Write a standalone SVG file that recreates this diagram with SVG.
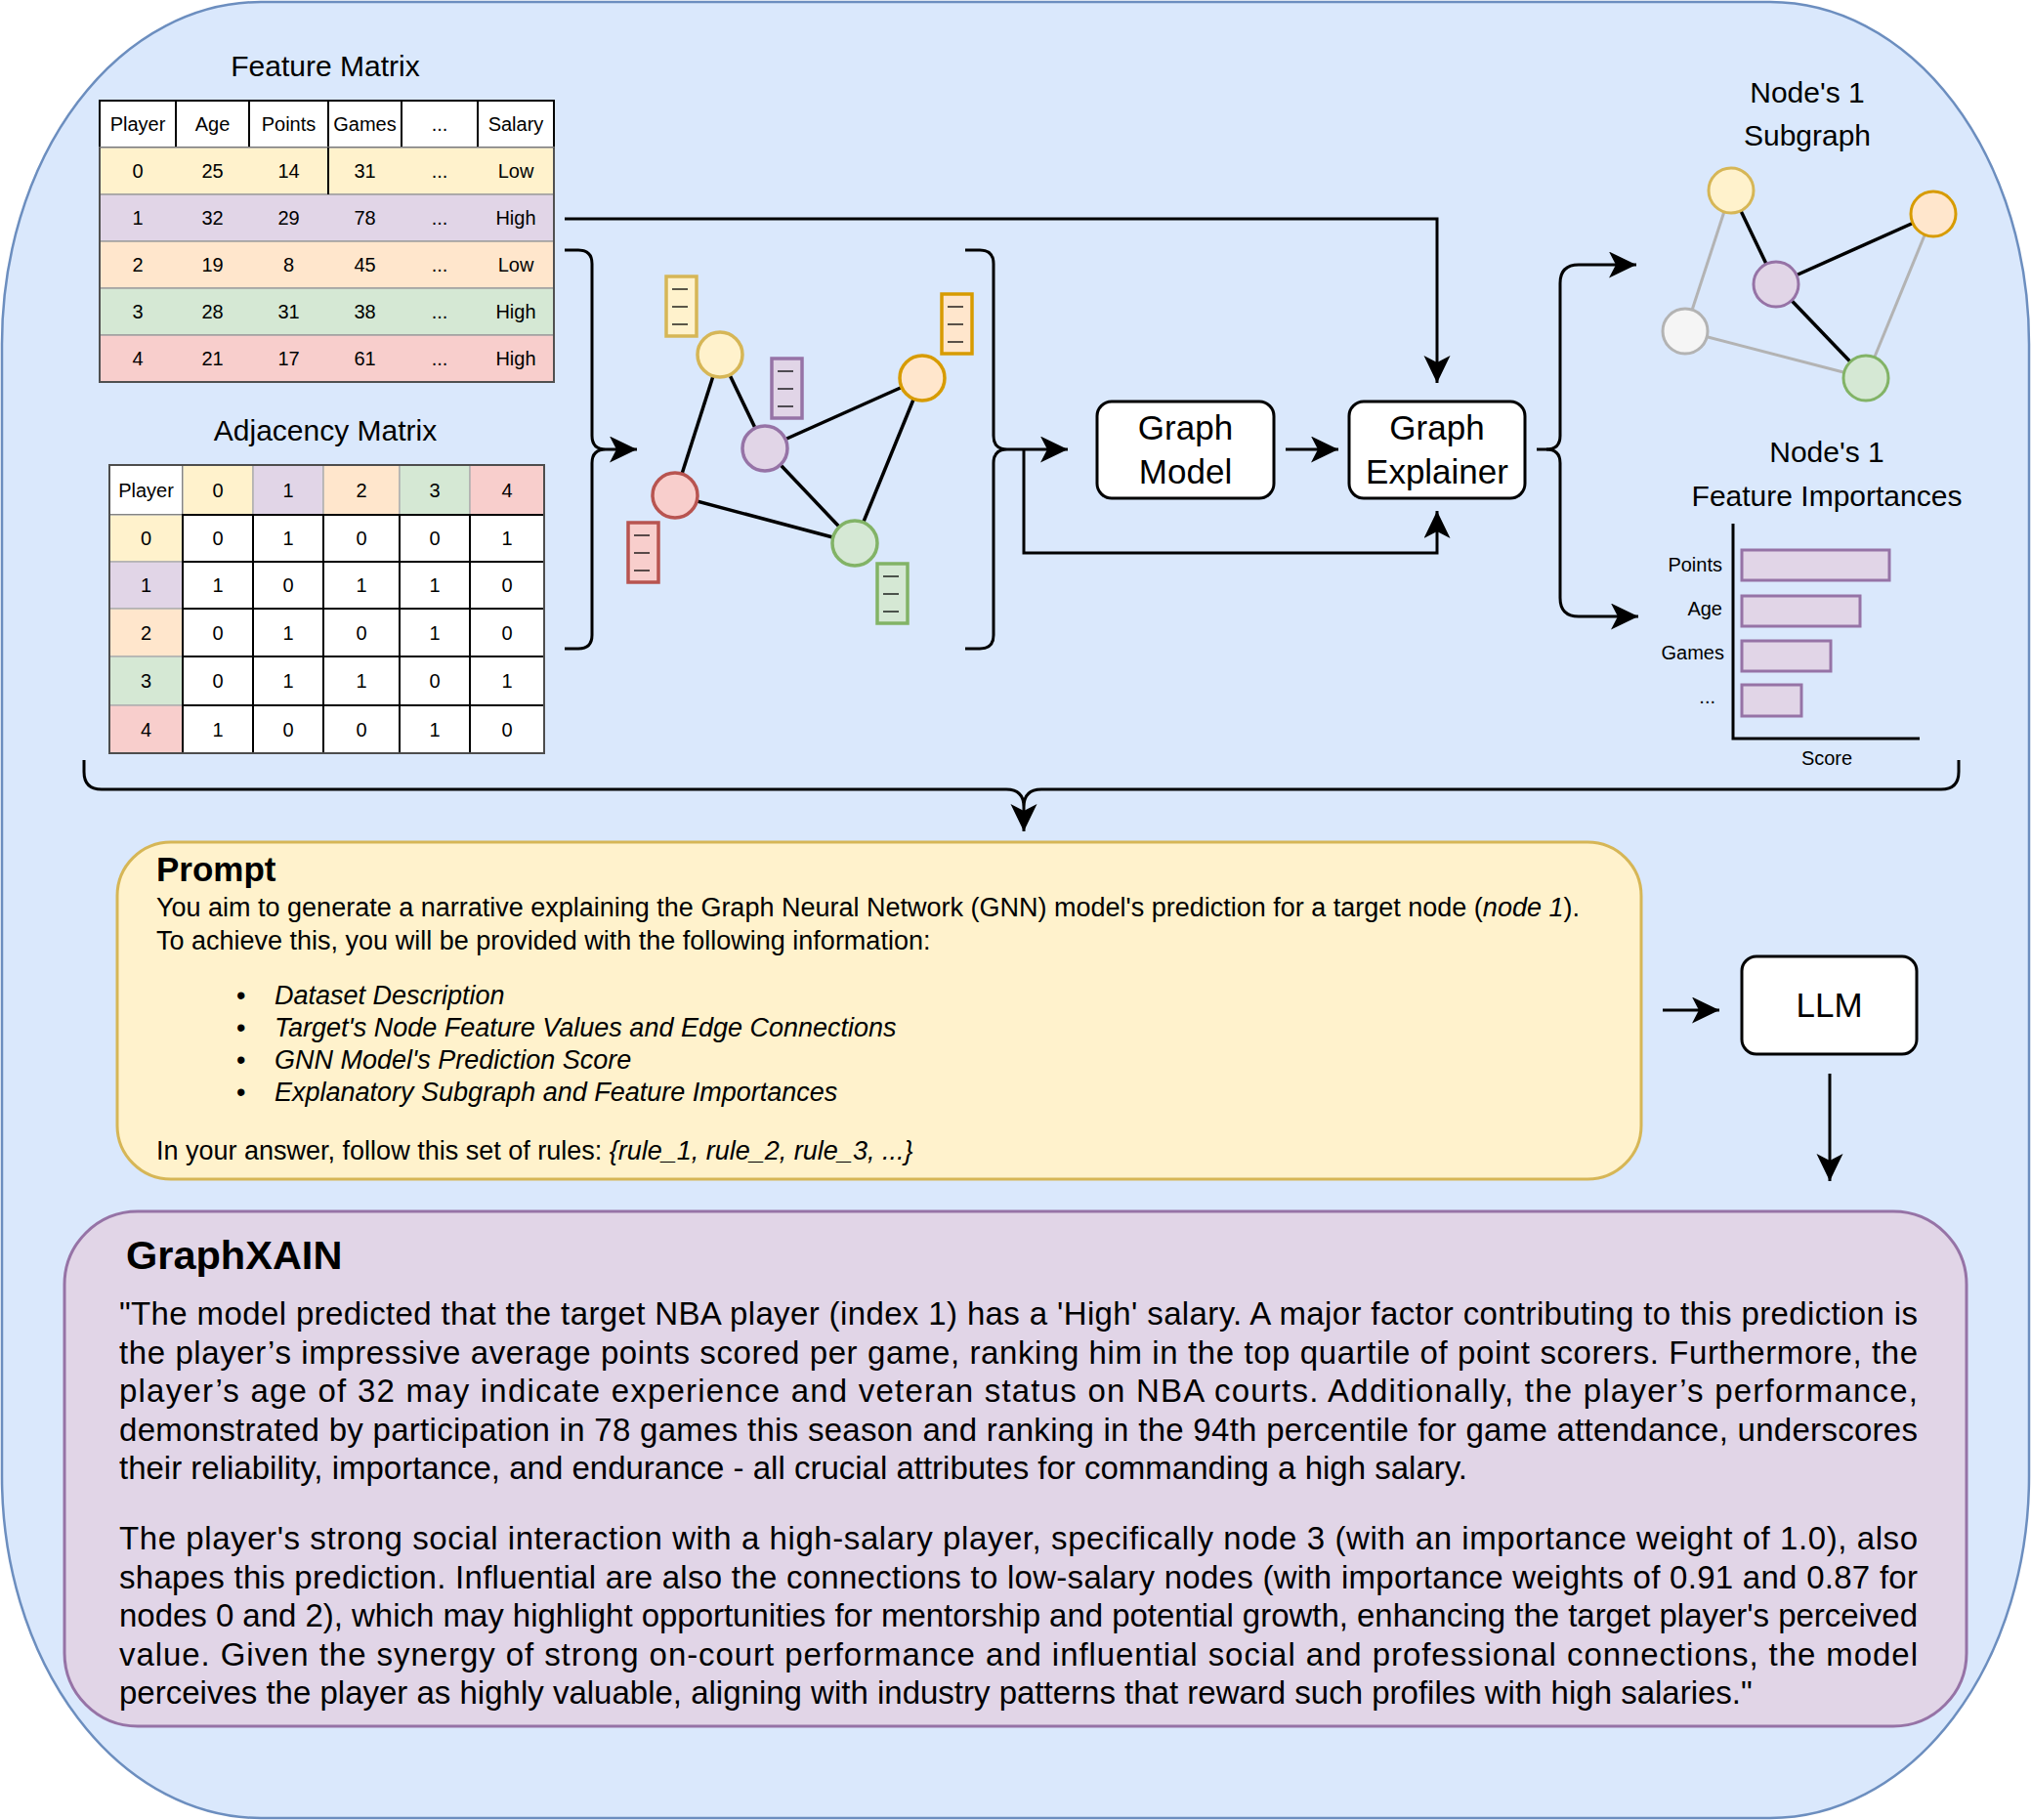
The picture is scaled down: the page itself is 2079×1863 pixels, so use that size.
<svg xmlns="http://www.w3.org/2000/svg" width="2079" height="1863" viewBox="0 0 2079 1863">
<style>
text{font-family:"Liberation Sans",Arial,sans-serif;fill:#000}
.t20{font-size:20px;text-anchor:middle}
.t30{font-size:30px;text-anchor:middle}
.lbl{font-size:20px;text-anchor:end}
.box{fill:#fff;stroke:#000;stroke-width:3}
.hdr{fill:#fff;stroke:#000;stroke-width:2}
.row{stroke:#a0a0a0;stroke-width:1.5}
.cell{fill:#fff;stroke:#000;stroke-width:2}
.ccell{stroke:#b0b0b0;stroke-width:1.5}
.edge{stroke:#000;stroke-width:3.5}
.gedge{stroke:#b3b3b3;stroke-width:3}
.conn{fill:none;stroke:#000;stroke-width:3}
.vec line{stroke:#000;stroke-width:1.3}
.c0{fill:#fff2cc;stroke:#d6b656}
.c1{fill:#e1d5e7;stroke:#9673a6}
.c2{fill:#ffe6cc;stroke:#d79b00}
.c3{fill:#d5e8d4;stroke:#82b366}
.c4{fill:#f8cecc;stroke:#b85450}
.cg{fill:#f5f5f5;stroke:#b3b3b3}
.body{font-size:33px}
.pb{font-size:27px}
</style>
<defs>
<marker id="arr" markerUnits="userSpaceOnUse" markerWidth="30" markerHeight="30" refX="28" refY="13.5" orient="auto">
<path d="M0,0 L28,13.5 L0,27 L7,13.5 Z" fill="#000"/>
</marker>
</defs>

<g id="background">
<rect x="2" y="2" width="2075" height="1859" rx="265" ry="350" fill="#dae8fc" stroke="#6c8ebf" stroke-width="2.5"/>
</g>

<g id="feature-matrix">
<text class="t30" x="333" y="78">Feature Matrix</text>
<rect class="hdr" x="102" y="103" width="78" height="48"/>
<rect class="hdr" x="180" y="103" width="75" height="48"/>
<rect class="hdr" x="255" y="103" width="81" height="48"/>
<rect class="hdr" x="336" y="103" width="75" height="48"/>
<rect class="hdr" x="411" y="103" width="78" height="48"/>
<rect class="hdr" x="489" y="103" width="78" height="48"/>
<rect class="row" x="102" y="151" width="465" height="48" fill="#fff2cc"/>
<rect class="row" x="102" y="199" width="465" height="48" fill="#e1d5e7"/>
<rect class="row" x="102" y="247" width="465" height="48" fill="#ffe6cc"/>
<rect class="row" x="102" y="295" width="465" height="48" fill="#d5e8d4"/>
<rect class="row" x="102" y="343" width="465" height="48" fill="#f8cecc"/>
<path d="M102,151 V391 H567 V151" fill="none" stroke="#505050" stroke-width="2"/>
<line x1="336" y1="151" x2="336" y2="199" stroke="#000" stroke-width="2"/>
<g class="t20">
<text x="141" y="134">Player</text><text x="217.5" y="134">Age</text><text x="295.5" y="134">Points</text><text x="373.5" y="134">Games</text><text x="450" y="134">...</text><text x="528" y="134">Salary</text>
<text x="141" y="182">0</text><text x="217.5" y="182">25</text><text x="295.5" y="182">14</text><text x="373.5" y="182">31</text><text x="450" y="182">...</text><text x="528" y="182">Low</text>
<text x="141" y="230">1</text><text x="217.5" y="230">32</text><text x="295.5" y="230">29</text><text x="373.5" y="230">78</text><text x="450" y="230">...</text><text x="528" y="230">High</text>
<text x="141" y="278">2</text><text x="217.5" y="278">19</text><text x="295.5" y="278">8</text><text x="373.5" y="278">45</text><text x="450" y="278">...</text><text x="528" y="278">Low</text>
<text x="141" y="326">3</text><text x="217.5" y="326">28</text><text x="295.5" y="326">31</text><text x="373.5" y="326">38</text><text x="450" y="326">...</text><text x="528" y="326">High</text>
<text x="141" y="374">4</text><text x="217.5" y="374">21</text><text x="295.5" y="374">17</text><text x="373.5" y="374">61</text><text x="450" y="374">...</text><text x="528" y="374">High</text>
</g>
</g>

<g id="adjacency-matrix">
<text class="t30" x="333" y="451">Adjacency Matrix</text>
<rect class="hdr" x="112" y="476" width="75" height="51"/>
<rect class="ccell" x="187" y="476" width="72" height="51" fill="#fff2cc"/>
<rect class="ccell" x="259" y="476" width="72" height="51" fill="#e1d5e7"/>
<rect class="ccell" x="331" y="476" width="78" height="51" fill="#ffe6cc"/>
<rect class="ccell" x="409" y="476" width="72" height="51" fill="#d5e8d4"/>
<rect class="ccell" x="481" y="476" width="76" height="51" fill="#f8cecc"/>
<rect class="ccell" x="112" y="527" width="75" height="48" fill="#fff2cc"/>
<rect class="ccell" x="112" y="575" width="75" height="48" fill="#e1d5e7"/>
<rect class="ccell" x="112" y="623" width="75" height="49" fill="#ffe6cc"/>
<rect class="ccell" x="112" y="672" width="75" height="50" fill="#d5e8d4"/>
<rect class="ccell" x="112" y="722" width="75" height="49" fill="#f8cecc"/>
<g>
<rect class="cell" x="187" y="527" width="72" height="48"/><rect class="cell" x="259" y="527" width="72" height="48"/><rect class="cell" x="331" y="527" width="78" height="48"/><rect class="cell" x="409" y="527" width="72" height="48"/><rect class="cell" x="481" y="527" width="76" height="48"/>
<rect class="cell" x="187" y="575" width="72" height="48"/><rect class="cell" x="259" y="575" width="72" height="48"/><rect class="cell" x="331" y="575" width="78" height="48"/><rect class="cell" x="409" y="575" width="72" height="48"/><rect class="cell" x="481" y="575" width="76" height="48"/>
<rect class="cell" x="187" y="623" width="72" height="49"/><rect class="cell" x="259" y="623" width="72" height="49"/><rect class="cell" x="331" y="623" width="78" height="49"/><rect class="cell" x="409" y="623" width="72" height="49"/><rect class="cell" x="481" y="623" width="76" height="49"/>
<rect class="cell" x="187" y="672" width="72" height="50"/><rect class="cell" x="259" y="672" width="72" height="50"/><rect class="cell" x="331" y="672" width="78" height="50"/><rect class="cell" x="409" y="672" width="72" height="50"/><rect class="cell" x="481" y="672" width="76" height="50"/>
<rect class="cell" x="187" y="722" width="72" height="49"/><rect class="cell" x="259" y="722" width="72" height="49"/><rect class="cell" x="331" y="722" width="78" height="49"/><rect class="cell" x="409" y="722" width="72" height="49"/><rect class="cell" x="481" y="722" width="76" height="49"/>
</g>
<rect x="112" y="476" width="445" height="295" fill="none" stroke="#4d4d4d" stroke-width="2"/>
<g class="t20">
<text x="149.5" y="508.5">Player</text><text x="223" y="508.5">0</text><text x="295" y="508.5">1</text><text x="370" y="508.5">2</text><text x="445" y="508.5">3</text><text x="519" y="508.5">4</text>
<text x="149.5" y="558">0</text><text x="223" y="558">0</text><text x="295" y="558">1</text><text x="370" y="558">0</text><text x="445" y="558">0</text><text x="519" y="558">1</text>
<text x="149.5" y="606">1</text><text x="223" y="606">1</text><text x="295" y="606">0</text><text x="370" y="606">1</text><text x="445" y="606">1</text><text x="519" y="606">0</text>
<text x="149.5" y="654.5">2</text><text x="223" y="654.5">0</text><text x="295" y="654.5">1</text><text x="370" y="654.5">0</text><text x="445" y="654.5">1</text><text x="519" y="654.5">0</text>
<text x="149.5" y="704">3</text><text x="223" y="704">0</text><text x="295" y="704">1</text><text x="370" y="704">1</text><text x="445" y="704">0</text><text x="519" y="704">1</text>
<text x="149.5" y="753.5">4</text><text x="223" y="753.5">1</text><text x="295" y="753.5">0</text><text x="370" y="753.5">0</text><text x="445" y="753.5">1</text><text x="519" y="753.5">0</text>
</g>
</g>

<g id="input-graph">
<g id="input-graph-edges">
<line class="edge" x1="737" y1="363" x2="691" y2="507"/>
<line class="edge" x1="737" y1="363" x2="783" y2="459"/>
<line class="edge" x1="783" y1="459" x2="944" y2="387"/>
<line class="edge" x1="783" y1="459" x2="875" y2="556"/>
<line class="edge" x1="944" y1="387" x2="875" y2="556"/>
<line class="edge" x1="691" y1="507" x2="875" y2="556"/>
</g>
<g stroke-width="3.5">
<circle class="c0" cx="737" cy="363" r="23"/>
<circle class="c1" cx="783" cy="459" r="23"/>
<circle class="c2" cx="944" cy="387" r="23"/>
<circle class="c3" cx="875" cy="556" r="23"/>
<circle class="c4" cx="691" cy="507" r="23"/>
</g>
<g class="vec" id="vec0"><rect class="c0" x="682" y="283" width="31" height="61" stroke-width="3.5"/><line x1="688" y1="296" x2="704" y2="296"/><line x1="688" y1="314" x2="704" y2="314"/><line x1="688" y1="332" x2="704" y2="332"/></g>
<g class="vec" id="vec2"><rect class="c2" x="964" y="301" width="31" height="61" stroke-width="3.5"/><line x1="970" y1="314" x2="986" y2="314"/><line x1="970" y1="332" x2="986" y2="332"/><line x1="970" y1="350" x2="986" y2="350"/></g>
<g class="vec" id="vec1"><rect class="c1" x="790" y="367" width="31" height="61" stroke-width="3.5"/><line x1="796" y1="380" x2="812" y2="380"/><line x1="796" y1="398" x2="812" y2="398"/><line x1="796" y1="416" x2="812" y2="416"/></g>
<g class="vec" id="vec4"><rect class="c4" x="643" y="535" width="31" height="61" stroke-width="3.5"/><line x1="649" y1="548" x2="665" y2="548"/><line x1="649" y1="566" x2="665" y2="566"/><line x1="649" y1="584" x2="665" y2="584"/></g>
<g class="vec" id="vec3"><rect class="c3" x="898" y="577" width="31" height="61" stroke-width="3.5"/><line x1="904" y1="590" x2="920" y2="590"/><line x1="904" y1="608" x2="920" y2="608"/><line x1="904" y1="626" x2="920" y2="626"/></g>
</g>

<g id="graph-model">
<rect class="box" x="1123" y="411" width="181" height="99" rx="15"/>
<text font-size="35" text-anchor="middle" x="1213.5" y="450">Graph</text>
<text font-size="35" text-anchor="middle" x="1213.5" y="495">Model</text>
</g>

<g id="graph-explainer">
<rect class="box" x="1381" y="411" width="180" height="99" rx="15"/>
<text font-size="35" text-anchor="middle" x="1471" y="450">Graph</text>
<text font-size="35" text-anchor="middle" x="1471" y="495">Explainer</text>
</g>

<g id="subgraph">
<text class="t30" x="1850" y="105">Node's 1</text>
<text class="t30" x="1850" y="149">Subgraph</text>
<line class="gedge" x1="1772" y1="195" x2="1725" y2="339"/>
<line class="gedge" x1="1725" y1="339" x2="1910" y2="387"/>
<line class="gedge" x1="1979" y1="219" x2="1910" y2="387"/>
<line class="edge" x1="1772" y1="195" x2="1818" y2="291"/>
<line class="edge" x1="1818" y1="291" x2="1979" y2="219"/>
<line class="edge" x1="1818" y1="291" x2="1910" y2="387"/>
<g stroke-width="3">
<circle class="c0" cx="1772" cy="195" r="23"/>
<circle class="c2" cx="1979" cy="219" r="23"/>
<circle class="c1" cx="1818" cy="291" r="23"/>
<circle class="cg" cx="1725" cy="339" r="23"/>
<circle class="c3" cx="1910" cy="387" r="23"/>
</g>
</g>

<g id="feature-importances">
<text class="t30" x="1870" y="473">Node's 1</text>
<text class="t30" x="1870" y="518">Feature Importances</text>
<g stroke-width="3">
<rect class="c1" x="1783" y="563" width="151" height="31"/>
<rect class="c1" x="1783" y="610" width="121" height="31"/>
<rect class="c1" x="1783" y="656" width="91" height="31"/>
<rect class="c1" x="1783" y="701" width="61" height="32"/>
</g>
<path d="M1774,536 V756 H1965" fill="none" stroke="#000" stroke-width="3"/>
<text class="lbl" x="1763" y="585">Points</text>
<text class="lbl" x="1763" y="630">Age</text>
<text class="lbl" x="1765" y="675">Games</text>
<text class="lbl" x="1756" y="720">...</text>
<text class="t20" x="1870" y="783">Score</text>
</g>

<g id="prompt">
<rect x="120" y="862" width="1560" height="345" rx="55" fill="#fff2cc" stroke="#d6b656" stroke-width="3"/>
<text x="160" y="902" font-size="35" font-weight="bold">Prompt</text>
<text class="pb" x="160" y="938">You aim to generate a narrative explaining the Graph Neural Network (GNN) model's prediction for a target node (<tspan font-style="italic">node 1</tspan>).</text>
<text class="pb" x="160" y="972">To achieve this, you will be provided with the following information:</text>
<g class="pb">
<text x="242" y="1028">•</text><text x="281" y="1028" font-style="italic">Dataset Description</text>
<text x="242" y="1061">•</text><text x="281" y="1061" font-style="italic">Target's Node Feature Values and Edge Connections</text>
<text x="242" y="1094">•</text><text x="281" y="1094" font-style="italic">GNN Model's Prediction Score</text>
<text x="242" y="1127">•</text><text x="281" y="1127" font-style="italic">Explanatory Subgraph and Feature Importances</text>
</g>
<text class="pb" x="160" y="1187">In your answer, follow this set of rules: <tspan font-style="italic">{rule_1, rule_2, rule_3, ...}</tspan></text>
</g>

<g id="llm">
<rect class="box" x="1783" y="979" width="179" height="100" rx="15"/>
<text font-size="35" text-anchor="middle" x="1872.5" y="1041">LLM</text>
</g>

<g id="graphxain">
<rect x="66" y="1240" width="1947" height="527" rx="75" fill="#e1d5e7" stroke="#9673a6" stroke-width="3"/>
<text x="129" y="1299" font-size="41.5" font-weight="bold">GraphXAIN</text>
<g class="body">
<text x="122" y="1356" textLength="1841" lengthAdjust="spacing">"The model predicted that the target NBA player (index 1) has a 'High' salary. A major factor contributing to this prediction is</text>
<text x="122" y="1395.5" textLength="1841" lengthAdjust="spacing">the player’s impressive average points scored per game, ranking him in the top quartile of point scorers. Furthermore, the</text>
<text x="122" y="1435" textLength="1841" lengthAdjust="spacing">player’s age of 32 may indicate experience and veteran status on NBA courts. Additionally, the player’s performance,</text>
<text x="122" y="1474.5" textLength="1841" lengthAdjust="spacing">demonstrated by participation in 78 games this season and ranking in the 94th percentile for game attendance, underscores</text>
<text x="122" y="1514">their reliability, importance, and endurance - all crucial attributes for commanding a high salary.</text>
<text x="122" y="1586" textLength="1841" lengthAdjust="spacing">The player's strong social interaction with a high-salary player, specifically node 3 (with an importance weight of 1.0), also</text>
<text x="122" y="1625.5" textLength="1841" lengthAdjust="spacing">shapes this prediction. Influential are also the connections to low-salary nodes (with importance weights of 0.91 and 0.87 for</text>
<text x="122" y="1665" textLength="1841" lengthAdjust="spacing">nodes 0 and 2), which may highlight opportunities for mentorship and potential growth, enhancing the target player's perceived</text>
<text x="122" y="1704.5" textLength="1841" lengthAdjust="spacing">value. Given the synergy of strong on-court performance and influential social and professional connections, the model</text>
<text x="122" y="1744">perceives the player as highly valuable, aligning with industry patterns that reward such profiles with high salaries."</text>
</g>
</g>

<g id="connectors">
<path class="conn" d="M578,256 L592,256 Q606,256 606,270 L606,446 Q606,460 620,460 Q606,460 606,474 L606,650 Q606,664 592,664 L578,664"/>
<path class="conn" d="M620,460 L652,460" marker-end="url(#arr)"/>
<path class="conn" d="M988,256 L1003,256 Q1017,256 1017,270 L1017,446 Q1017,460 1031,460 Q1017,460 1017,474 L1017,650 Q1017,664 1003,664 L988,664"/>
<path class="conn" d="M1031,460 L1093,460" marker-end="url(#arr)"/>
<path class="conn" d="M1048,460 L1048,566 L1471,566 L1471,523" marker-end="url(#arr)"/>
<path class="conn" stroke-width="2.5" d="M578,224 L1471,224 L1471,392" marker-end="url(#arr)"/>
<path class="conn" d="M1316,460 L1370,460" marker-end="url(#arr)"/>
<path class="conn" d="M1573,460 L1583,460 Q1597,460 1597,446 L1597,290 Q1597,271 1616,271 L1675,271" marker-end="url(#arr)"/>
<path class="conn" d="M1583,460 Q1597,460 1597,474 L1597,612 Q1597,631 1616,631 L1677,631" marker-end="url(#arr)"/>
<path class="conn" d="M86,778 L86,790 Q86,808 104,808 L1030,808 Q1048,808 1048,826 Q1048,808 1066,808 L1987,808 Q2005,808 2005,790 L2005,778"/>
<path class="conn" d="M1048,826 L1048,851" marker-end="url(#arr)"/>
<path class="conn" d="M1702,1034 L1760,1034" marker-end="url(#arr)"/>
<path class="conn" stroke-width="2" d="M1873,1099 L1873,1209" marker-end="url(#arr)"/>
</g>
</svg>
